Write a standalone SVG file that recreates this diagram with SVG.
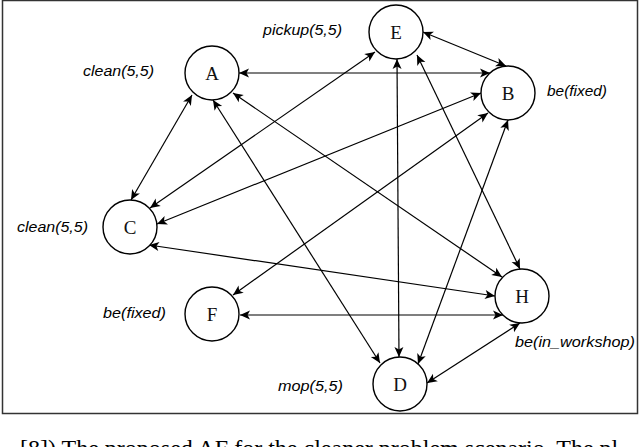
<svg xmlns="http://www.w3.org/2000/svg" width="640" height="447" viewBox="0 0 640 447">
<style>
.node{fill:#fff;stroke:#000;stroke-width:1.4}
.nl{font-family:"Liberation Serif","DejaVu Serif",serif;font-size:19px;fill:#111;text-anchor:middle}
.lbl{font-family:"Liberation Sans","DejaVu Sans",sans-serif;font-style:italic;font-size:15px;fill:#000}
.e{stroke:#000;stroke-width:1.2;fill:none;marker-start:url(#ar);marker-end:url(#ar)}
.cap{font-family:"Liberation Serif","DejaVu Serif",serif;font-size:24px;fill:#000}
</style>
<defs>
<marker id="ar" viewBox="-1 -6 12 12" markerWidth="12" markerHeight="12" refX="10" refY="0" orient="auto-start-reverse" markerUnits="userSpaceOnUse">
<path d="M0,-4.5 L10,0 L0,4.5 L2.5,0 z" fill="#000"/>
</marker>
</defs>
<rect x="2.5" y="0.5" width="635" height="413" fill="#fff" stroke="#333" stroke-width="1.5"/>
<g id="connectors">
<line class="e" x1="239" y1="73" x2="490" y2="73"/>
<line class="e" x1="192" y1="95" x2="131" y2="200"/>
<line class="e" x1="213" y1="100" x2="380" y2="363"/>
<line class="e" x1="233" y1="93" x2="502" y2="277"/>
<line class="e" x1="375" y1="52" x2="150" y2="208"/>
<line class="e" x1="397" y1="59" x2="399" y2="357"/>
<line class="e" x1="417" y1="55" x2="520" y2="269"/>
<line class="e" x1="423" y1="32" x2="506" y2="66"/>
<line class="e" x1="481" y1="93" x2="157" y2="224"/>
<line class="e" x1="488" y1="113" x2="233" y2="295"/>
<line class="e" x1="508" y1="120" x2="418" y2="364"/>
<line class="e" x1="149" y1="245" x2="495" y2="296"/>
<line class="e" x1="240" y1="315" x2="503" y2="315"/>
<line class="e" x1="520" y1="323" x2="427" y2="383"/>
</g>
<g id="A"><circle class="node" cx="212" cy="73" r="27"/><text class="nl" x="212" y="80">A</text><text class="lbl" x="83" y="76" textLength="71" lengthAdjust="spacingAndGlyphs">clean(5,5)</text></g>
<g id="E"><circle class="node" cx="396" cy="32" r="27"/><text class="nl" x="396" y="39">E</text><text class="lbl" x="263" y="35" textLength="79" lengthAdjust="spacingAndGlyphs">pickup(5,5)</text></g>
<g id="B"><circle class="node" cx="508" cy="93" r="27"/><text class="nl" x="508" y="100">B</text><text class="lbl" x="547" y="96" textLength="60" lengthAdjust="spacingAndGlyphs">be(fixed)</text></g>
<g id="C"><circle class="node" cx="130" cy="227" r="27"/><text class="nl" x="130" y="234">C</text><text class="lbl" x="17" y="232" textLength="71" lengthAdjust="spacingAndGlyphs">clean(5,5)</text></g>
<g id="F"><circle class="node" cx="212" cy="314" r="27"/><text class="nl" x="212" y="321">F</text><text class="lbl" x="103" y="318" textLength="63" lengthAdjust="spacingAndGlyphs">be(fixed)</text></g>
<g id="H"><circle class="node" cx="522" cy="296" r="27"/><text class="nl" x="522" y="303">H</text><text class="lbl" x="515" y="347" textLength="120" lengthAdjust="spacingAndGlyphs">be(in_workshop)</text></g>
<g id="D"><circle class="node" cx="400" cy="384" r="27"/><text class="nl" x="400" y="391">D</text><text class="lbl" x="278" y="391" textLength="65" lengthAdjust="spacingAndGlyphs">mop(5,5)</text></g>
<text class="cap" x="20" y="456">[8]) The proposed AF for the cleaner problem scenario. The pl</text>
</svg>
